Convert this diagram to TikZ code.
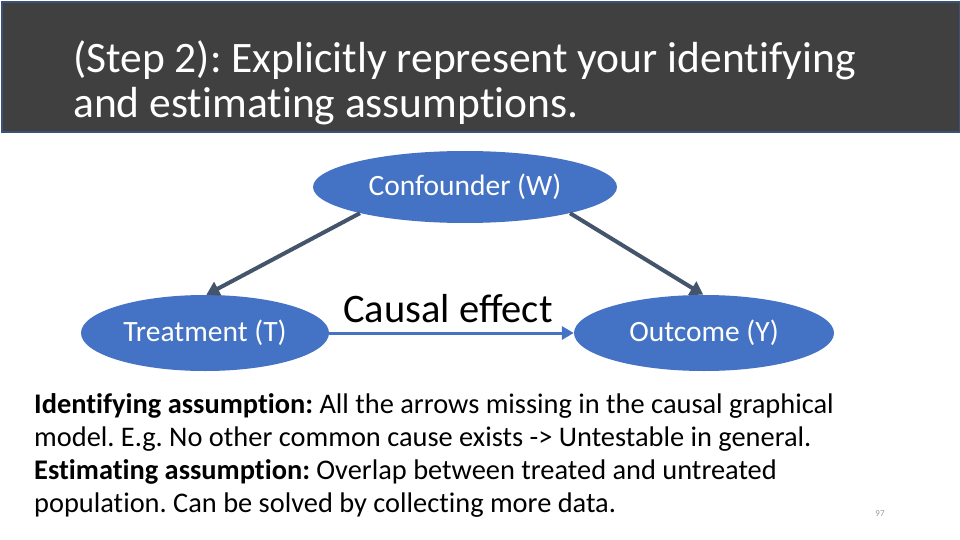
\documentclass[tikz,border=0pt]{standalone}
\usepackage{fontspec}
\setmainfont{Carlito}
\newfontfamily\nolig{Carlito}[Ligatures=NoCommon]
\usetikzlibrary{shapes.geometric,arrows.meta}
\definecolor{titlebg}{HTML}{404040}
\definecolor{titleborder}{HTML}{3B5277}
\definecolor{nodeblue}{HTML}{4472C4}
\definecolor{arrowslate}{HTML}{44546A}
\tikzset{
  causalnode/.style={ellipse, fill=nodeblue, draw=none, inner sep=0pt, text=white, font=\fontsize{29.5}{33}\selectfont},
  confarrow/.style={draw=arrowslate, line width=4pt, -{Triangle[length=13pt,width=15pt]}},
  effarrow/.style={draw=nodeblue, line width=3pt, -{Triangle[length=12pt,width=13pt]}},
}
\begin{document}
\frenchspacing
\begin{tikzpicture}[x=1pt,y=-1pt]
\useasboundingbox (0,0) rectangle (960,540);
\fill[white] (0,0) rectangle (960,540);
\node[fill=titlebg, draw=titleborder, line width=2pt, minimum width=958pt, minimum height=130pt, inner sep=0pt, anchor=north west] (bar) at (1,1) {};
\node[anchor=base west, align=left, text=white, inner sep=0pt, font=\nolig\fontsize{43.5}{45}\selectfont] (title) at (73,118) {(Step 2): Explicitly represent your identifying\\and estimating assumptions.};
\node[causalnode, minimum width=304pt, minimum height=72pt] (W) at (465,187) {Confounder (W)};
\node[causalnode, minimum width=248pt, minimum height=76pt] (T) at (205,333) {Treatment (T)};
\node[causalnode, minimum width=260pt, minimum height=76pt] (Y) at (704,333) {Outcome (Y)};
\draw[confarrow] (W.194) -- (T.88);
\draw[confarrow] (W.346) -- (Y.91);
\draw[effarrow] (T.east) -- (Y.west);
\node[text=black, font=\fontsize{40.5}{44}\selectfont, anchor=base, inner sep=0pt] (ce) at (448,322) {Causal effect};
\node[anchor=base west, align=left, inner sep=0pt, font=\nolig\fontsize{28.4}{33}\selectfont] (body) at (34,512) {\textbf{Identifying assumption:} All the arrows missing in the causal graphical\\model. E.g. No other common cause exists -> Untestable in general.\\\textbf{Estimating assumption:} Overlap between treated and untreated\\population. Can be solved by collecting more data.};
\node[text=gray!80, font=\fontsize{9}{10}\selectfont, inner sep=0pt] (page) at (880,514) {97};
\end{tikzpicture}
\end{document}
